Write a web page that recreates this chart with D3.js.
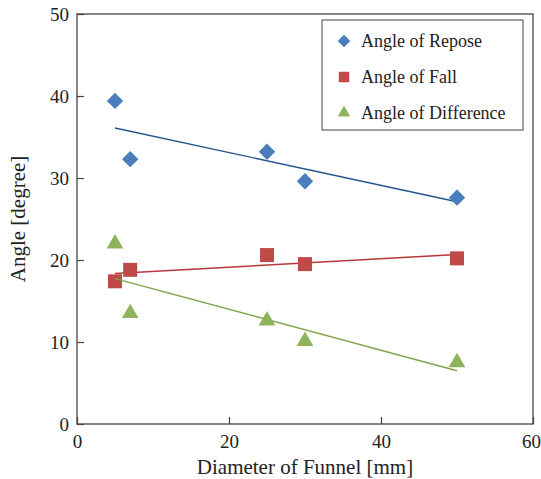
<!DOCTYPE html>
<html lang="en">
<head>
<meta charset="UTF-8"/>
<title>Angle vs Diameter of Funnel</title>
<script src="https://d3js.org/d3.v7.min.js"></script>
<style>
  body { margin: 0; background: #fff; }
  svg text { font-family: "Liberation Serif", "Times New Roman", serif !important; fill: #222; }
</style>
</head>
<body>
<script>
    // data
    var diameters = [5, 7, 25, 30, 50];
    var repose = [39.4, 32.3, 33.2, 29.6, 27.6];
    var fall = [17.4, 18.8, 20.6, 19.5, 20.2];
    var difference = [22.0, 13.5, 12.6, 10.1, 7.5];
    var seriesNames = ["Angle of Repose", "Angle of Fall", "Angle of Difference"];
    var xTicks = [0, 20, 40, 60];
    var yTicks = [0, 10, 20, 30, 40, 50];

    var w = 541, h = 479;
    var pLeft = 77, pRight = 533, pTop = 14, pBottom = 424;

    var xScale = d3.scaleLinear().domain([0, 60]).range([pLeft, pRight]);
    var yScale = d3.scaleLinear().domain([0, 50]).range([pBottom, pTop]);

    var svg = d3.select("body").append("svg")
        .attr("width", w)
        .attr("height", h);

    //series styling
    var series = [
        { name: seriesNames[0], values: repose, fill: "#4a7ebb", line: "#23558f", shape: d3.symbolDiamond2, size: 170, lsize: 100 },
        { name: seriesNames[1], values: fall, fill: "#be4b48", line: "#b8363a", shape: d3.symbolSquare2, size: 250, lsize: 140 },
        { name: seriesNames[2], values: difference, fill: "#8fb35a", line: "#7fa64a", shape: d3.symbolTriangle2, size: 200, lsize: 110 }
    ];

    //least squares fit for the trend lines
    function fit(xs, ys) {
        var mx = d3.mean(xs), my = d3.mean(ys);
        var sxy = d3.sum(xs, function (x, i) { return (x - mx) * (ys[i] - my); });
        var sxx = d3.sum(xs, function (x) { return (x - mx) * (x - mx); });
        var b = sxy / sxx;
        return function (x) { return my + b * (x - mx); };
    }

    //frame
    svg.append("rect")
        .attr("x", pLeft).attr("y", pTop)
        .attr("width", pRight - pLeft).attr("height", pBottom - pTop)
        .attr("fill", "none").attr("stroke", "#444").attr("stroke-width", 1.3);

    //axes with inward ticks
    var xAxis = svg.append("g")
        .attr("transform", "translate(0," + pBottom + ")")
        .call(d3.axisBottom(xScale).tickValues(xTicks).tickSizeInner(-7).tickSizeOuter(0).tickPadding(11));
    var yAxis = svg.append("g")
        .attr("transform", "translate(" + pLeft + ",0)")
        .call(d3.axisLeft(yScale).tickValues(yTicks).tickSizeInner(-7).tickSizeOuter(0).tickPadding(8));
    [xAxis, yAxis].forEach(function (a) {
        a.select(".domain").remove();
        a.selectAll("line").attr("stroke", "#444").attr("stroke-width", 1.2);
        a.selectAll("text").attr("font-size", "19px").attr("fill", "#222");
    });
    // keep the last x label inside the window
    xAxis.selectAll(".tick text").filter(function (d) { return d === 60; }).attr("dx", "-2");

    //trend lines and markers
    series.forEach(function (s) {
        var f = fit(diameters, s.values);
        var x0 = d3.min(diameters), x1 = d3.max(diameters);
        svg.append("line")
            .attr("x1", xScale(x0)).attr("y1", yScale(f(x0)))
            .attr("x2", xScale(x1)).attr("y2", yScale(f(x1)))
            .attr("stroke", s.line).attr("stroke-width", 1.4);

        svg.selectAll(null)
            .data(s.values)
            .enter()
            .append("path")
            .attr("d", d3.symbol().type(s.shape).size(s.size))
            .attr("transform", function (d, i) {
                return "translate(" + xScale(diameters[i]) + "," + yScale(d) + ")";
            })
            .attr("fill", s.fill);
    });

    //legend
    var lg = svg.append("g");
    lg.append("rect")
        .attr("x", 322).attr("y", 20).attr("width", 201).attr("height", 110)
        .attr("fill", "#fff").attr("stroke", "#444").attr("stroke-width", 1);
    series.forEach(function (s, i) {
        var y = 41 + i * 36;
        lg.append("path")
            .attr("d", d3.symbol().type(s.shape).size(s.lsize))
            .attr("transform", "translate(344," + y + ")")
            .attr("fill", s.fill);
        lg.append("text")
            .attr("x", 361).attr("y", y + 6)
            .attr("font-size", "18px")
            .text(s.name);
    });

    //axis titles
    svg.append("text")
        .attr("x", (pLeft + pRight) / 2).attr("y", 474)
        .attr("text-anchor", "middle").attr("font-size", "21px")
        .text("Diameter of Funnel [mm]");
    svg.append("text")
        .attr("transform", "translate(25," + ((pTop + pBottom) / 2) + ") rotate(-90)")
        .attr("text-anchor", "middle").attr("font-size", "21px")
        .text("Angle [degree]");
</script>
</body>
</html>
